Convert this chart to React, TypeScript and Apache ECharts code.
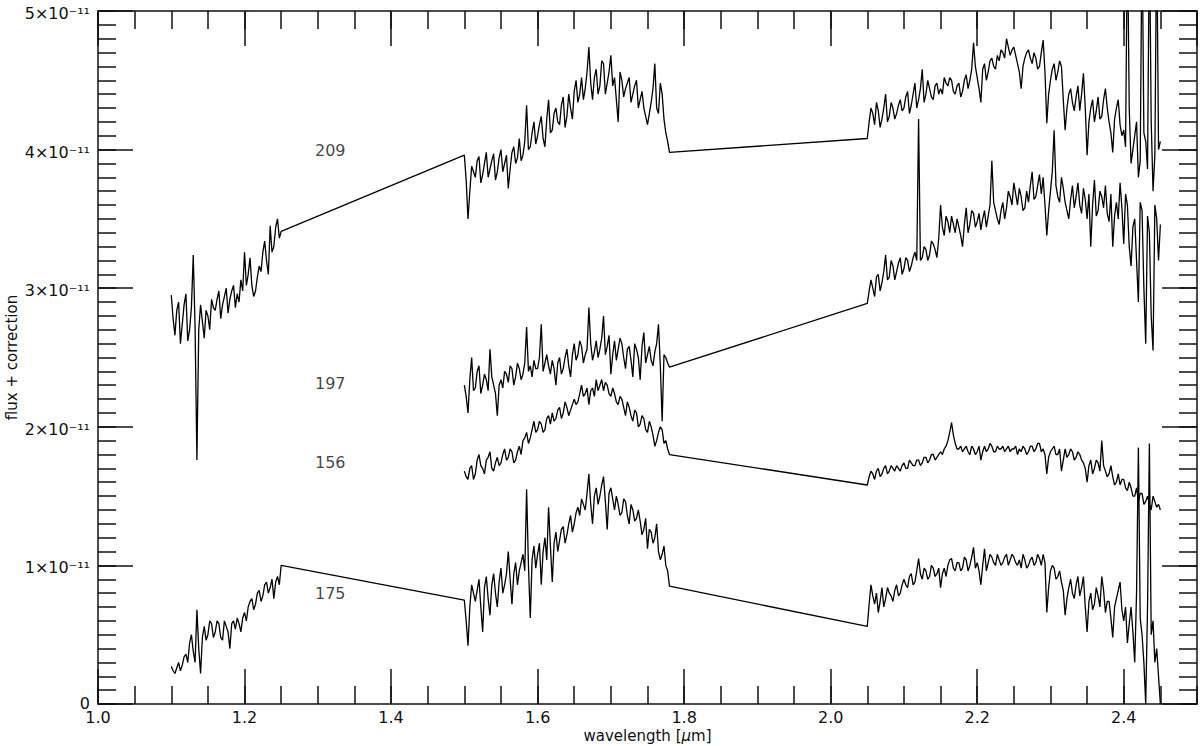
import React, { useEffect, useRef } from "react";
import * as echarts from "echarts";

// Wavelength grids (µm): main samples every STEP from each band start,
// in-between samples ("Mid") at start + STEP/2 + i*STEP
const STEP = 0.005;
const J_START = 1.1;
const H_START = 1.5;
const K_START = 2.05;

// Flux + correction, in units of 1e-11
const s209J = [
  2.95, 2.66, 2.9, 2.74, 2.96, 2.7, 3.24, 1.76, 2.88, 2.64,
  2.8, 2.92, 2.84, 2.98, 2.88, 3.0, 2.92, 3.02, 2.96, 3.06,
  3.26, 3.1, 3.02, 2.98, 3.16, 3.26, 3.2, 3.45, 3.3, 3.5,
  3.41,
];
const s209JMid = [
  2.78, 2.84, 2.6, 2.88, 2.62, 2.86, 2.72, 2.7, 2.76, 2.84,
  2.7, 2.86, 2.92, 2.78, 2.94, 2.82, 2.98, 2.86, 2.9, 2.98,
  3.02, 3.22, 2.94, 3.08, 3.12, 3.34, 3.1, 3.26, 3.44, 3.36,
];
const s209H = [
  3.96, 3.5, 3.88, 3.8, 3.95, 3.82, 3.98, 3.86, 3.97, 3.84,
  4.0, 3.9, 3.72, 3.98, 3.9, 4.08, 3.96, 4.32, 4.02, 4.2,
  4.1, 4.24, 4.02, 4.36, 4.14, 4.3, 4.18, 4.38, 4.24, 4.3,
  4.42, 4.34, 4.52, 4.44, 4.74, 4.36, 4.58, 4.46, 4.62, 4.48,
  4.68, 4.52, 4.2, 4.5, 4.44, 4.52, 4.4, 4.5, 4.36, 4.3,
  4.18, 4.34, 4.62, 4.26, 4.4, 4.12, 3.98,
];
const s209HMid = [
  3.78, 3.7, 3.84, 3.92, 3.76, 3.9, 3.8, 3.92, 3.78, 3.94,
  3.84, 3.96, 3.86, 4.02, 3.94, 3.92, 4.06, 4.0, 4.12, 4.04,
  4.18, 4.08, 4.22, 4.12, 4.26, 4.2, 4.32, 4.16, 4.4, 4.22,
  4.5, 4.4, 4.36, 4.56, 4.48, 4.52, 4.4, 4.64, 4.4, 4.56,
  4.46, 4.36, 4.56, 4.38, 4.48, 4.34, 4.46, 4.3, 4.42, 4.24,
  4.26, 4.44, 4.3, 4.48, 4.22, 4.06,
];
const s209K = [
  4.08, 4.3, 4.18, 4.28, 4.22, 4.4, 4.24, 4.3, 4.26, 4.36,
  4.3, 4.42, 4.32, 4.48, 4.36, 4.58, 4.4, 4.44, 4.36, 4.48,
  4.44, 4.52, 4.46, 4.5, 4.4, 4.48, 4.42, 4.54, 4.5, 4.77,
  4.52, 4.34, 4.62, 4.56, 4.66, 4.58, 4.64, 4.7, 4.8, 4.68,
  4.74, 4.62, 4.44, 4.66, 4.72, 4.62, 4.66, 4.6, 4.79, 4.19,
  4.5, 4.62, 4.56, 4.6, 4.14, 4.4, 4.34, 4.38, 4.28, 4.55,
  3.96, 4.3, 4.2, 4.38, 4.24, 4.44, 4.2, 3.98, 4.3, 4.18,
  4.14, 5.6, 3.9, 4.1, 3.8, 5.6, 4.06, 5.6, 3.7, 5.6,
  4.06,
];
const s209KMid = [
  4.2, 4.26, 4.34, 4.16, 4.3, 4.2, 4.34, 4.22, 4.32, 4.28,
  4.38, 4.26, 4.4, 4.3, 4.44, 4.34, 4.5, 4.38, 4.46, 4.4,
  4.4, 4.48, 4.52, 4.42, 4.46, 4.38, 4.5, 4.44, 4.58, 4.6,
  4.44, 4.58, 4.5, 4.64, 4.6, 4.68, 4.72, 4.66, 4.74, 4.72,
  4.68, 4.56, 4.6, 4.7, 4.66, 4.7, 4.58, 4.7, 4.56, 4.4,
  4.58, 4.5, 4.64, 4.36, 4.3, 4.44, 4.28, 4.46, 4.4, 4.3,
  4.2, 4.36, 4.28, 4.22, 4.36, 4.3, 4.12, 4.22, 4.36, 4.1,
  4.02, 4.3, 4.0, 4.2, 3.92, 4.12, 3.86, 4.2, 3.96, 4.0,
];

const s197H = [
  2.3, 2.1, 2.5, 2.28, 2.44, 2.3, 2.34, 2.56, 2.3, 2.08,
  2.34, 2.4, 2.32, 2.42, 2.36, 2.42, 2.38, 2.72, 2.44, 2.48,
  2.42, 2.74, 2.46, 2.44, 2.48, 2.3, 2.5, 2.42, 2.56, 2.36,
  2.6, 2.52, 2.58, 2.52, 2.86, 2.48, 2.62, 2.56, 2.8, 2.58,
  2.38, 2.62, 2.56, 2.6, 2.42, 2.58, 2.36, 2.56, 2.34, 2.68,
  2.52, 2.48, 2.54, 2.74, 2.04, 2.5, 2.43,
];
const s197HMid = [
  2.22, 2.34, 2.26, 2.4, 2.24, 2.38, 2.26, 2.36, 2.24, 2.3,
  2.28, 2.38, 2.44, 2.3, 2.46, 2.34, 2.46, 2.4, 2.36, 2.42,
  2.5, 2.4, 2.52, 2.38, 2.42, 2.46, 2.38, 2.5, 2.44, 2.52,
  2.48, 2.62, 2.46, 2.56, 2.6, 2.54, 2.5, 2.64, 2.52, 2.66,
  2.52, 2.48, 2.64, 2.5, 2.56, 2.48, 2.6, 2.5, 2.58, 2.46,
  2.58, 2.44, 2.6, 2.44, 2.52, 2.46,
];
const s197K = [
  2.89, 3.06, 2.94, 3.1, 3.04, 3.24, 3.08, 3.16, 3.12, 3.22,
  3.14, 3.2, 3.16, 3.26, 4.22, 3.22, 3.28, 3.24, 3.32, 3.22,
  3.6, 3.38, 3.48, 3.52, 3.4, 3.44, 3.3, 3.58, 3.46, 3.54,
  3.48, 3.42, 3.56, 3.52, 3.92, 3.56, 3.46, 3.62, 3.58, 3.66,
  3.76, 3.6, 3.66, 3.58, 3.62, 3.84, 3.66, 3.82, 3.8, 3.38,
  3.7, 4.14, 3.66, 3.8, 3.62, 3.5, 3.74, 3.66, 3.6, 3.72,
  3.5, 3.3, 3.78, 3.56, 3.66, 3.74, 3.48, 3.3, 3.62, 3.76,
  3.32, 3.6, 3.16, 3.5, 2.9, 3.56, 2.6, 3.4, 2.55, 3.5,
  3.46,
];
const s197KMid = [
  2.98, 3.0, 3.08, 2.98, 3.12, 3.06, 3.2, 3.06, 3.18, 3.1,
  3.22, 3.12, 3.22, 3.2, 3.2, 3.3, 3.2, 3.34, 3.28, 3.36,
  3.44, 3.52, 3.4, 3.46, 3.5, 3.38, 3.46, 3.4, 3.56, 3.44,
  3.54, 3.5, 3.44, 3.6, 3.62, 3.5, 3.56, 3.5, 3.7, 3.6,
  3.68, 3.72, 3.56, 3.7, 3.74, 3.64, 3.74, 3.68, 3.6, 3.56,
  3.84, 3.74, 3.62, 3.72, 3.56, 3.64, 3.58, 3.76, 3.54, 3.64,
  3.68, 3.6, 3.52, 3.7, 3.58, 3.54, 3.68, 3.52, 3.5, 3.58,
  3.68, 3.3, 3.44, 3.2, 3.62, 3.0, 3.52, 2.8, 3.6, 3.2,
];

const s156H = [
  1.68, 1.62, 1.72, 1.66, 1.8, 1.7, 1.76, 1.82, 1.68, 1.78,
  1.74, 1.84, 1.78, 1.82, 1.76, 1.86, 1.9, 1.96, 1.92, 2.04,
  1.98, 2.02, 1.98, 2.08, 2.1, 2.06, 2.14, 2.1, 2.14, 2.12,
  2.2, 2.18, 2.3, 2.24, 2.16, 2.28, 2.34, 2.3, 2.26, 2.3,
  2.22, 2.24, 2.16, 2.2, 2.08, 2.14, 2.04, 2.1, 2.02, 2.06,
  1.96, 2.0, 1.86, 1.96, 1.98, 1.9, 1.8,
];
const s156HMid = [
  1.64, 1.7, 1.62, 1.76, 1.72, 1.66, 1.78, 1.7, 1.74, 1.72,
  1.8, 1.76, 1.84, 1.74, 1.82, 1.8, 1.92, 1.88, 1.98, 1.96,
  2.04, 1.96, 2.06, 2.02, 2.04, 2.12, 2.06, 2.18, 2.08, 2.16,
  2.16, 2.24, 2.22, 2.28, 2.26, 2.22, 2.26, 2.34, 2.32, 2.24,
  2.28, 2.18, 2.22, 2.14, 2.18, 2.08, 2.12, 2.0, 2.08, 1.98,
  2.04, 1.94, 1.9, 2.0, 1.88, 1.84,
];
const s156K = [
  1.58, 1.68, 1.62, 1.7, 1.66, 1.72, 1.68, 1.7, 1.72, 1.68,
  1.74, 1.7, 1.74, 1.72, 1.76, 1.74, 1.78, 1.76, 1.8, 1.78,
  1.82, 1.84, 1.9, 2.03, 1.88, 1.84, 1.82, 1.86, 1.8, 1.84,
  1.82, 1.76, 1.86, 1.84, 1.86, 1.82, 1.84, 1.86, 1.84, 1.82,
  1.84, 1.8, 1.82, 1.84, 1.82, 1.86, 1.84, 1.88, 1.84, 1.66,
  1.82, 1.86, 1.8, 1.68, 1.84, 1.8, 1.82, 1.78, 1.8, 1.74,
  1.6, 1.76, 1.7, 1.74, 1.9, 1.68, 1.66, 1.64, 1.6, 1.58,
  1.62, 1.54, 1.56, 1.5, 1.46, 1.52, 1.46, 1.44, 1.5, 1.42,
  1.4,
];
const s156KMid = [
  1.64, 1.66, 1.68, 1.64, 1.7, 1.66, 1.72, 1.68, 1.7, 1.72,
  1.7, 1.76, 1.72, 1.76, 1.72, 1.78, 1.74, 1.8, 1.76, 1.8,
  1.8, 1.86, 1.96, 1.94, 1.84, 1.86, 1.84, 1.82, 1.86, 1.8,
  1.86, 1.82, 1.82, 1.88, 1.82, 1.86, 1.84, 1.82, 1.86, 1.84,
  1.86, 1.84, 1.86, 1.8, 1.86, 1.82, 1.88, 1.82, 1.8, 1.78,
  1.84, 1.8, 1.84, 1.76, 1.78, 1.84, 1.76, 1.82, 1.76, 1.7,
  1.72, 1.66, 1.76, 1.68, 1.72, 1.64, 1.72, 1.58, 1.66, 1.62,
  1.56, 1.6, 1.5, 1.56, 1.52, 1.44, 1.5, 1.4, 1.46, 1.44,
];

const s175J = [
  0.27, 0.22, 0.3, 0.28, 0.36, 0.44, 0.38, 0.68, 0.22, 0.56,
  0.5, 0.58, 0.52, 0.58, 0.46, 0.56, 0.4, 0.6, 0.62, 0.52,
  0.66, 0.7, 0.76, 0.72, 0.82, 0.78, 0.88, 0.84, 0.76, 0.92,
  1.0,
];
const s175JMid = [
  0.24, 0.26, 0.24, 0.34, 0.3, 0.5, 0.3, 0.4, 0.48, 0.46,
  0.6, 0.48, 0.6, 0.48, 0.6, 0.52, 0.58, 0.54, 0.58, 0.62,
  0.6, 0.74, 0.68, 0.8, 0.74, 0.86, 0.8, 0.9, 0.88, 0.86,
];
const s175H = [
  0.75, 0.42, 0.86, 0.74, 0.9, 0.52, 0.92, 0.64, 0.94, 0.7,
  0.98, 0.86, 1.1, 0.72, 1.02, 0.96, 1.08, 1.55, 0.62, 1.14,
  1.08, 0.86, 1.2, 1.42, 0.88, 1.24, 1.18, 1.28, 1.22, 1.36,
  1.3, 1.42, 1.48, 1.4, 1.66, 1.3, 1.56, 1.5, 1.64, 1.26,
  1.56, 1.4, 1.44, 1.38, 1.46, 1.3, 1.4, 1.34, 1.32, 1.26,
  1.12, 1.24, 1.2, 1.1, 1.08, 1.0, 0.85,
];
const s175HMid = [
  0.6, 0.7, 0.8, 0.82, 0.7, 0.84, 0.76, 0.86, 0.8, 0.88,
  0.8, 0.94, 0.9, 0.94, 0.86, 1.02, 0.96, 1.0, 1.04, 0.98,
  1.16, 1.1, 1.04, 1.14, 1.16, 1.1, 1.26, 1.16, 1.3, 1.24,
  1.38, 1.36, 1.44, 1.52, 1.44, 1.5, 1.44, 1.58, 1.46, 1.52,
  1.48, 1.5, 1.36, 1.48, 1.36, 1.44, 1.32, 1.4, 1.22, 1.34,
  1.26, 1.16, 1.3, 1.04, 1.14, 0.96,
];
const s175K = [
  0.56, 0.86, 0.72, 0.66, 0.84, 0.76, 0.8, 0.74, 0.86, 0.8,
  0.9, 0.84, 0.94, 0.88, 1.05, 0.9, 0.96, 0.92, 0.98, 0.94,
  0.84, 0.98, 1.0, 1.05, 0.96, 1.02, 0.98, 1.04, 1.0, 1.13,
  1.02, 0.86, 1.12, 1.02, 1.06, 1.0, 1.04, 1.02, 1.08, 1.04,
  1.06, 1.0, 0.98, 1.04, 1.0, 1.06, 1.02, 1.05, 1.08, 0.66,
  0.96, 0.98, 0.92, 0.88, 0.64, 0.84, 0.8, 0.86, 0.78, 0.92,
  0.52, 0.8, 0.72, 0.78, 0.92, 0.66, 0.74, 0.48, 0.76, 0.88,
  0.6, 0.44, 0.7, 0.3, 1.85, 0.5, 0.0, 1.88, 0.6, 0.4,
  0.0,
];
const s175KMid = [
  0.72, 0.78, 0.8, 0.74, 0.7, 0.84, 0.78, 0.82, 0.78, 0.86,
  0.86, 0.92, 0.86, 0.96, 0.94, 0.98, 0.9, 1.0, 0.92, 0.98,
  0.94, 0.92, 1.04, 0.98, 1.02, 0.96, 1.06, 0.96, 1.06, 0.98,
  0.96, 1.0, 0.96, 1.08, 1.02, 1.08, 1.0, 1.06, 1.0, 1.08,
  1.02, 1.04, 1.08, 0.98, 1.04, 1.0, 1.08, 1.0, 1.02, 0.84,
  1.0, 0.9, 0.96, 0.82, 0.76, 0.9, 0.76, 0.92, 0.84, 0.7,
  0.74, 0.68, 0.84, 0.7, 0.82, 0.74, 0.62, 0.7, 0.82, 0.68,
  0.7, 0.58, 0.52, 0.8, 0.62, 0.3, 0.7, 0.5, 0.3, 0.2,
];

// Object labels
const labelNames = ["209", "197", "156", "175"];
const labelX = [1.317, 1.317, 1.317, 1.317];
const labelY = [3.99, 2.31, 1.745, 0.8];

const FONT = "DejaVu Sans";
const INK = "#111";

function seg(start: number, vals: number[], mids: number[]) {
  const out: number[][] = [];
  vals.forEach((v, i) => {
    out.push([Number((start + i * STEP).toFixed(5)), v]);
    if (i < mids.length) out.push([Number((start + (i + 0.5) * STEP).toFixed(5)), mids[i]]);
  });
  return out;
}

export default function App() {
  const ref = useRef<HTMLDivElement>(null);
  useEffect(() => {
    if (!ref.current) return;
    const chart = echarts.init(ref.current, null, { renderer: "svg" });
    const grid = {
      left: 98,
      right: 3,
      top: 11,
      bottom: 42,
      containLabel: false,
      outerBoundsMode: "none",
    };
    const lineAx = { show: true, onZero: false, lineStyle: { color: INK, width: 1.5 } };
    const spectra = [
      [...seg(J_START, s209J, s209JMid), ...seg(H_START, s209H, s209HMid), ...seg(K_START, s209K, s209KMid)],
      [...seg(H_START, s197H, s197HMid), ...seg(K_START, s197K, s197KMid)],
      [...seg(H_START, s156H, s156HMid), ...seg(K_START, s156K, s156KMid)],
      [...seg(J_START, s175J, s175JMid), ...seg(H_START, s175H, s175HMid), ...seg(K_START, s175K, s175KMid)],
    ];
    const majorX = (pos: string, labels: boolean) => ({
      type: "value",
      gridIndex: 0,
      position: pos,
      min: 1.0,
      max: 2.5,
      interval: 0.2,
      axisLine: lineAx,
      axisTick: { show: true, inside: true, length: 35, lineStyle: { color: INK, width: 1.5 } },
      axisLabel: {
        show: labels,
        showMaxLabel: false,
        formatter: (v: number) => v.toFixed(1),
        fontSize: 16,
        color: INK,
        fontFamily: FONT,
        margin: 5,
      },
      splitLine: { show: false },
      ...(labels
        ? {
            name: "{a|wavelength [}{b|μ}{a|m]}",
            nameLocation: "middle",
            nameGap: 24,
            nameMoveOverlap: false,
            nameTextStyle: {
              rich: {
                a: { fontSize: 15, fontFamily: FONT, color: INK },
                b: { fontSize: 15, fontFamily: FONT, color: INK, fontStyle: "italic" },
              },
            },
          }
        : {}),
    });
    const minorX = (pos: string) => ({
      type: "value",
      gridIndex: 1,
      position: pos,
      min: 1.0,
      max: 2.5,
      interval: 0.05,
      axisLine: { show: false, onZero: false },
      axisTick: { show: true, inside: true, length: 18, lineStyle: { color: INK, width: 1.5 } },
      axisLabel: { show: false },
      splitLine: { show: false },
    });
    const majorY = (pos: string, labels: boolean) => ({
      type: "value",
      gridIndex: 0,
      position: pos,
      min: 0,
      max: 5,
      interval: 1,
      axisLine: lineAx,
      axisTick: { show: true, inside: true, length: 35, lineStyle: { color: INK, width: 1.5 } },
      axisLabel: {
        show: labels,
        margin: 8,
        padding: [5, 0, 0, 0],
        fontSize: 16,
        fontFamily: FONT,
        color: INK,
        formatter: (v: number) => (Math.round(v) === 0 ? "{z|0}" : `${Math.round(v)}×10⁻¹¹`),
        rich: {
          z: { fontSize: 16, fontFamily: FONT, color: INK, padding: [0, 0, 6, 0] },
        },
      },
      splitLine: { show: false },
      ...(labels
        ? {
            name: "flux + correction",
            nameLocation: "middle",
            nameGap: 79,
            nameMoveOverlap: false,
            nameTextStyle: { fontSize: 15, fontFamily: FONT, color: INK },
          }
        : {}),
    });
    const minorY = (pos: string) => ({
      type: "value",
      gridIndex: 1,
      position: pos,
      min: 0,
      max: 5,
      interval: 0.1,
      axisLine: { show: false, onZero: false },
      axisTick: { show: true, inside: true, length: 18, lineStyle: { color: INK, width: 1.5 } },
      axisLabel: { show: false },
      splitLine: { show: false },
    });

    chart.setOption({
      animation: false,
      backgroundColor: "#fff",
      textStyle: { fontFamily: FONT },
      grid: [grid, { ...grid }],
      xAxis: [majorX("bottom", true), majorX("top", false), minorX("bottom"), minorX("top")],
      yAxis: [majorY("left", true), majorY("right", false), minorY("left"), minorY("right")],
      series: [
        ...spectra.map((d) => ({
          type: "line",
          xAxisIndex: 0,
          yAxisIndex: 0,
          data: d,
          symbol: "none",
          showSymbol: false,
          clip: true,
          lineStyle: { color: "#000", width: 1.3 },
          silent: true,
        })),
        {
          type: "scatter",
          xAxisIndex: 0,
          yAxisIndex: 0,
          symbolSize: 1,
          itemStyle: { color: "rgba(0,0,0,0)" },
          data: labelNames.map((n, i) => [labelX[i], labelY[i], n]),
          label: {
            show: true,
            position: "inside",
            formatter: (p: any) => p.value[2],
            fontSize: 16,
            fontFamily: FONT,
            color: INK,
          },
          silent: true,
        },
      ],
    });
    return () => chart.dispose();
  }, []);
  return (
    <div
      ref={ref}
      style={{ position: "absolute", left: 0, top: 0, width: 1200, height: 746, background: "#fff" }}
    />
  );
}
